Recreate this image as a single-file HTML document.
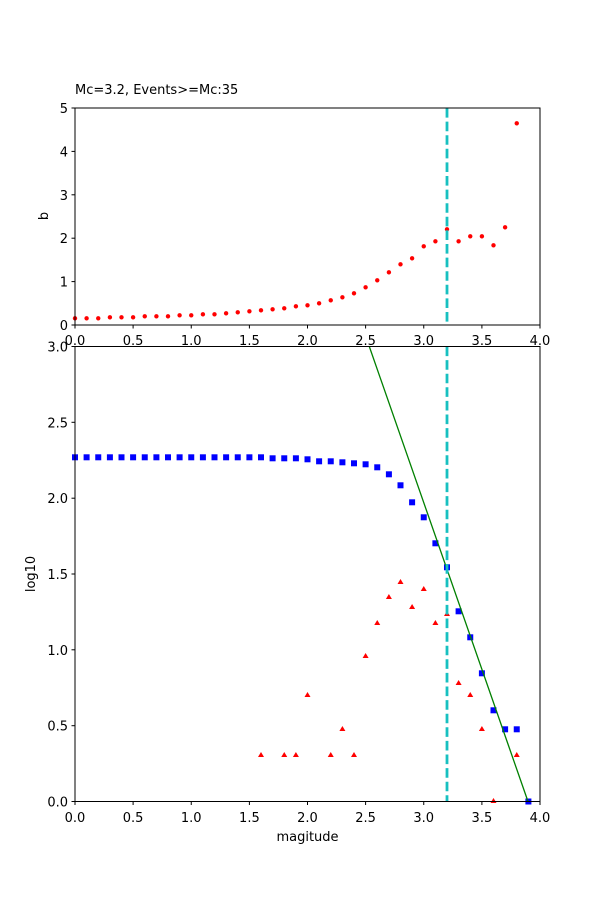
<!DOCTYPE html><html><head><style>body{margin:0;background:#fff}svg{display:block;font-family:"DejaVu Sans","Liberation Sans",sans-serif;font-size:13px}</style></head><body>
<svg width="600" height="900" xmlns="http://www.w3.org/2000/svg">
<rect width="600" height="900" fill="#fff"/>
<text x="75" y="94" font-size="13">Mc=3.2, Events&gt;=Mc:35</text>
<g fill="red">
<circle cx="75" cy="318.3" r="2.2"/><circle cx="86.6" cy="318.3" r="2.2"/><circle cx="98.25" cy="318.3" r="2.2"/><circle cx="109.9" cy="317.3" r="2.2"/><circle cx="121.5" cy="317.3" r="2.2"/><circle cx="133.1" cy="317.3" r="2.2"/><circle cx="144.75" cy="316.3" r="2.2"/><circle cx="156.4" cy="316.3" r="2.2"/><circle cx="168" cy="316.3" r="2.2"/><circle cx="179.6" cy="315.3" r="2.2"/><circle cx="191.25" cy="315.3" r="2.2"/><circle cx="202.9" cy="314.3" r="2.2"/><circle cx="214.5" cy="314.3" r="2.2"/><circle cx="226.1" cy="313.3" r="2.2"/><circle cx="237.75" cy="312.3" r="2.2"/><circle cx="249.4" cy="311.3" r="2.2"/><circle cx="261" cy="310.3" r="2.2"/><circle cx="272.6" cy="309.3" r="2.2"/><circle cx="284.25" cy="308.3" r="2.2"/><circle cx="295.9" cy="306.3" r="2.2"/><circle cx="307.5" cy="305.3" r="2.2"/><circle cx="319.1" cy="303.3" r="2.2"/><circle cx="330.75" cy="300.3" r="2.2"/><circle cx="342.4" cy="297.3" r="2.2"/><circle cx="354" cy="293.3" r="2.2"/><circle cx="365.6" cy="287.3" r="2.2"/><circle cx="377.25" cy="280.3" r="2.2"/><circle cx="388.9" cy="272.3" r="2.2"/><circle cx="400.5" cy="264.3" r="2.2"/><circle cx="412.1" cy="258.3" r="2.2"/><circle cx="423.75" cy="246.3" r="2.2"/><circle cx="435.4" cy="241.3" r="2.2"/><circle cx="447" cy="229.3" r="2.2"/><circle cx="458.6" cy="241.3" r="2.2"/><circle cx="470.25" cy="236.3" r="2.2"/><circle cx="481.9" cy="236.3" r="2.2"/><circle cx="493.5" cy="245.3" r="2.2"/><circle cx="505.1" cy="227.3" r="2.2"/><circle cx="516.75" cy="123.3" r="2.2"/>
</g>
<line x1="447" y1="108" x2="447" y2="325" stroke="#17c0c0" stroke-width="2.8" stroke-dasharray="9.6,4"/>
<rect x="75" y="108" width="465" height="217" fill="none" stroke="#000" stroke-width="1"/>
<g stroke="#000"><line x1="71.5" y1="325" x2="75" y2="325"/><line x1="71.5" y1="281.6" x2="75" y2="281.6"/><line x1="71.5" y1="238.2" x2="75" y2="238.2"/><line x1="71.5" y1="194.8" x2="75" y2="194.8"/><line x1="71.5" y1="151.4" x2="75" y2="151.4"/><line x1="71.5" y1="108" x2="75" y2="108"/>
<line x1="75" y1="325" x2="75" y2="328.5"/><line x1="133.1" y1="325" x2="133.1" y2="328.5"/><line x1="191.25" y1="325" x2="191.25" y2="328.5"/><line x1="249.4" y1="325" x2="249.4" y2="328.5"/><line x1="307.5" y1="325" x2="307.5" y2="328.5"/><line x1="365.6" y1="325" x2="365.6" y2="328.5"/><line x1="423.75" y1="325" x2="423.75" y2="328.5"/><line x1="481.9" y1="325" x2="481.9" y2="328.5"/><line x1="540" y1="325" x2="540" y2="328.5"/></g>
<g text-anchor="end"><text x="68" y="330">0</text><text x="68" y="286.6">1</text><text x="68" y="243.2">2</text><text x="68" y="199.8">3</text><text x="68" y="156.4">4</text><text x="68" y="113">5</text></g>
<g text-anchor="middle"><text x="75" y="345">0.0</text><text x="133.1" y="345">0.5</text><text x="191.25" y="345">1.0</text><text x="249.4" y="345">1.5</text><text x="307.5" y="345">2.0</text><text x="365.6" y="345">2.5</text><text x="423.75" y="345">3.0</text><text x="481.9" y="345">3.5</text><text x="540" y="345">4.0</text></g>
<text transform="translate(48,216) rotate(-90)" text-anchor="middle">b</text>

<rect x="75" y="346.5" width="465" height="455" fill="#fff"/>
<g fill="blue">
<rect x="72" y="454.3" width="6" height="6"/><rect x="83.6" y="454.3" width="6" height="6"/><rect x="95.25" y="454.3" width="6" height="6"/><rect x="106.9" y="454.3" width="6" height="6"/><rect x="118.5" y="454.3" width="6" height="6"/><rect x="130.1" y="454.3" width="6" height="6"/><rect x="141.75" y="454.3" width="6" height="6"/><rect x="153.4" y="454.3" width="6" height="6"/><rect x="165" y="454.3" width="6" height="6"/><rect x="176.6" y="454.3" width="6" height="6"/><rect x="188.25" y="454.3" width="6" height="6"/><rect x="199.9" y="454.3" width="6" height="6"/><rect x="211.5" y="454.3" width="6" height="6"/><rect x="223.1" y="454.3" width="6" height="6"/><rect x="234.75" y="454.3" width="6" height="6"/><rect x="246.4" y="454.3" width="6" height="6"/><rect x="258" y="454.3" width="6" height="6"/><rect x="269.6" y="455.3" width="6" height="6"/><rect x="281.25" y="455.3" width="6" height="6"/><rect x="292.9" y="455.3" width="6" height="6"/><rect x="304.5" y="456.3" width="6" height="6"/><rect x="316.1" y="458.3" width="6" height="6"/><rect x="327.75" y="458.3" width="6" height="6"/><rect x="339.4" y="459.3" width="6" height="6"/><rect x="351" y="460.3" width="6" height="6"/><rect x="362.6" y="461.3" width="6" height="6"/><rect x="374.25" y="464.3" width="6" height="6"/><rect x="385.9" y="471.3" width="6" height="6"/><rect x="397.5" y="482.3" width="6" height="6"/><rect x="409.1" y="499.3" width="6" height="6"/><rect x="420.75" y="514.3" width="6" height="6"/><rect x="432.4" y="540.3" width="6" height="6"/><rect x="444" y="564.3" width="6" height="6"/><rect x="455.6" y="608.3" width="6" height="6"/><rect x="467.25" y="634.3" width="6" height="6"/><rect x="478.9" y="670.3" width="6" height="6"/><rect x="490.5" y="707.3" width="6" height="6"/><rect x="502.1" y="726.3" width="6" height="6"/><rect x="513.75" y="726.3" width="6" height="6"/><rect x="525.4" y="798.5" width="6" height="6"/>
</g>
<g fill="red">
<path d="M261 752l-3 5h6z"/><path d="M284.25 752l-3 5h6z"/><path d="M295.9 752l-3 5h6z"/><path d="M307.5 692l-3 5h6z"/><path d="M330.75 752l-3 5h6z"/><path d="M342.4 726l-3 5h6z"/><path d="M354 752l-3 5h6z"/><path d="M365.6 653l-3 5h6z"/><path d="M377.25 620l-3 5h6z"/><path d="M388.9 594l-3 5h6z"/><path d="M400.5 579l-3 5h6z"/><path d="M412.1 604l-3 5h6z"/><path d="M423.75 586l-3 5h6z"/><path d="M435.4 620l-3 5h6z"/><path d="M447 611l-3 5h6z"/><path d="M458.6 680l-3 5h6z"/><path d="M470.25 692l-3 5h6z"/><path d="M481.9 726l-3 5h6z"/><path d="M493.5 798l-3 5h6z"/><path d="M516.75 752l-3 5h6z"/>
</g>
<line x1="369.3" y1="346.5" x2="528" y2="801.5" stroke="green" stroke-width="1.3"/>
<line x1="447" y1="346.5" x2="447" y2="801.5" stroke="#17c0c0" stroke-width="2.8" stroke-dasharray="9.6,4"/>
<rect x="75" y="346.5" width="465" height="455" fill="none" stroke="#000" stroke-width="1"/>
<g stroke="#000"><line x1="71.5" y1="801.5" x2="75" y2="801.5"/><line x1="71.5" y1="725.7" x2="75" y2="725.7"/><line x1="71.5" y1="649.8" x2="75" y2="649.8"/><line x1="71.5" y1="574" x2="75" y2="574"/><line x1="71.5" y1="498.2" x2="75" y2="498.2"/><line x1="71.5" y1="422.3" x2="75" y2="422.3"/><line x1="71.5" y1="346.5" x2="75" y2="346.5"/>
<line x1="75" y1="801.5" x2="75" y2="805"/><line x1="133.1" y1="801.5" x2="133.1" y2="805"/><line x1="191.25" y1="801.5" x2="191.25" y2="805"/><line x1="249.4" y1="801.5" x2="249.4" y2="805"/><line x1="307.5" y1="801.5" x2="307.5" y2="805"/><line x1="365.6" y1="801.5" x2="365.6" y2="805"/><line x1="423.75" y1="801.5" x2="423.75" y2="805"/><line x1="481.9" y1="801.5" x2="481.9" y2="805"/><line x1="540" y1="801.5" x2="540" y2="805"/></g>
<g text-anchor="end"><text x="68" y="806.5">0.0</text><text x="68" y="730.7">0.5</text><text x="68" y="654.8">1.0</text><text x="68" y="579">1.5</text><text x="68" y="503.2">2.0</text><text x="68" y="427.3">2.5</text><text x="68" y="351.5">3.0</text></g>
<g text-anchor="middle"><text x="75" y="822">0.0</text><text x="133.1" y="822">0.5</text><text x="191.25" y="822">1.0</text><text x="249.4" y="822">1.5</text><text x="307.5" y="822">2.0</text><text x="365.6" y="822">2.5</text><text x="423.75" y="822">3.0</text><text x="481.9" y="822">3.5</text><text x="540" y="822">4.0</text></g>
<text x="307.5" y="841" text-anchor="middle">magitude</text>
<text transform="translate(35,574) rotate(-90)" text-anchor="middle">log10</text>
</svg>
</body></html>
